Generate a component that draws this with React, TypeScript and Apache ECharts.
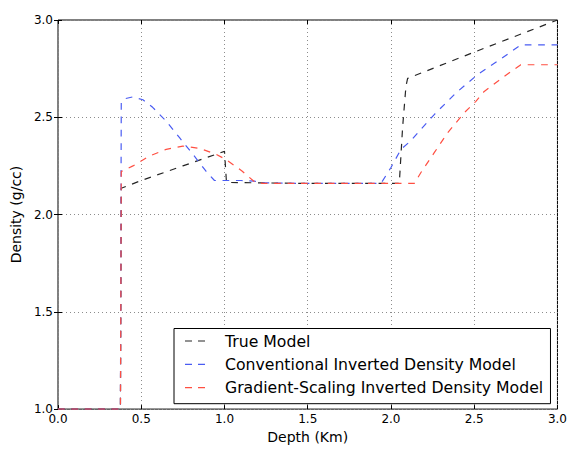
import React, { useEffect, useRef } from "react";
import * as echarts from "echarts";

const trueX = [0, 0.375, 0.38, 0.5, 0.75, 1.0, 1.012, 1.5, 2.05, 2.07, 2.09, 2.1, 2.5, 3.0];
const trueY = [1.0, 1.0, 2.135, 2.175, 2.25, 2.325, 2.165, 2.16, 2.16, 2.45, 2.66, 2.70, 2.835, 3.0];

const convX = [0, 0.375, 0.38, 0.4, 0.45, 0.51, 0.57, 0.65, 0.73, 0.81, 0.89, 0.94, 1.0, 1.1, 1.18, 1.22, 1.5, 1.94, 2.0, 2.06, 2.12, 2.18, 2.26, 2.39, 2.52, 2.66, 2.78, 3.0];
const convY = [1.0, 1.0, 2.575, 2.595, 2.605, 2.59, 2.55, 2.48, 2.395, 2.31, 2.222, 2.175, 2.175, 2.175, 2.172, 2.163, 2.16, 2.16, 2.242, 2.335, 2.38, 2.438, 2.514, 2.625, 2.719, 2.8, 2.872, 2.872];

const gradX = [0, 0.375, 0.38, 0.45, 0.55, 0.65, 0.75, 0.85, 0.95, 1.006, 1.105, 1.185, 1.23, 1.5, 2.12, 2.14, 2.18, 2.26, 2.34, 2.44, 2.51, 2.56, 2.68, 2.78, 3.0];
const gradY = [1.0, 1.0, 2.221, 2.25, 2.301, 2.335, 2.352, 2.34, 2.31, 2.284, 2.224, 2.165, 2.16, 2.16, 2.16, 2.16, 2.216, 2.318, 2.42, 2.523, 2.582, 2.633, 2.71, 2.77, 2.77];

const seriesNames = [
  "True Model",
  "Conventional Inverted Density Model",
  "Gradient-Scaling Inverted Density Model",
];
const seriesColors = ["#262626", "#4a5cf2", "#ff4f42"];

const FONT = "DejaVu Sans";

function zip(xs: number[], ys: number[]) {
  return xs.map((x, i) => [x, ys[i]]);
}

export default function App() {
  const ref = useRef<HTMLDivElement>(null);
  useEffect(() => {
    if (!ref.current) return;
    document.body.style.margin = "0";
    const chart = echarts.init(ref.current, undefined, { renderer: "svg" });
    const gridLine = { show: true, lineStyle: { color: "#8c8c8c", type: [1, 3] as any, width: 1 } };
    const tick = { show: true, inside: true, length: 4, lineStyle: { color: "#000" } };
    const dataSets = [zip(trueX, trueY), zip(convX, convY), zip(gradX, gradY)];
    chart.setOption({
      animation: false,
      backgroundColor: "#fff",
      grid: {
        left: 58,
        right: 8.5,
        top: 20,
        bottom: 37.3,
        show: true,
        borderColor: "#000",
        borderWidth: 1,
        backgroundColor: "transparent",
      },
      xAxis: [
        {
          type: "value",
          min: 0,
          max: 3,
          interval: 0.5,
          name: "Depth (Km)",
          nameLocation: "middle",
          nameGap: 18,
          nameTextStyle: { fontFamily: FONT, fontSize: 14, color: "#000" },
          axisLine: { show: false },
          axisTick: tick,
          splitLine: gridLine,
          axisLabel: {
            fontFamily: FONT,
            fontSize: 12,
            color: "#000",
            margin: 4,
            formatter: (v: number) => v.toFixed(1),
          },
        },
        {
          type: "value",
          position: "top",
          min: 0,
          max: 3,
          interval: 0.5,
          axisLine: { show: false },
          axisTick: tick,
          splitLine: { show: false },
          axisLabel: { show: false },
        },
      ],
      yAxis: [
        {
          type: "value",
          min: 1,
          max: 3,
          interval: 0.5,
          name: "Density (g/cc)",
          nameLocation: "middle",
          nameGap: 31,
          nameTextStyle: { fontFamily: FONT, fontSize: 14, color: "#000" },
          axisLine: { show: false },
          axisTick: tick,
          splitLine: gridLine,
          axisLabel: {
            fontFamily: FONT,
            fontSize: 12,
            color: "#000",
            margin: 5,
            formatter: (v: number) => v.toFixed(1),
          },
        },
        {
          type: "value",
          position: "right",
          min: 1,
          max: 3,
          interval: 0.5,
          axisLine: { show: false },
          axisTick: tick,
          splitLine: { show: false },
          axisLabel: { show: false },
        },
      ],
      legend: {
        data: seriesNames,
        orient: "vertical",
        left: 174,
        top: 328.5,
        backgroundColor: "#fff",
        borderColor: "#000",
        borderWidth: 1,
        borderRadius: 0,
        padding: [3.5, 7.3, 7, 11],
        itemGap: 5.35,
        itemWidth: 20,
        itemHeight: 1.2,
        icon: "path://M0,0h7v1.2h-7zM13,0h7v1.2h-7z",
        textStyle: {
          fontFamily: FONT,
          fontSize: 15.7,
          lineHeight: 18,
          color: "#000",
          padding: [0, 0, 0, 15],
        },
      },
      series: dataSets.map((d, i) => ({
        name: seriesNames[i],
        type: "line",
        data: d,
        symbol: "none",
        showSymbol: false,
        color: seriesColors[i],
        lineStyle: { color: seriesColors[i], width: 1.2, type: [6.7, 6.7] },
        z: 2 + i,
      })),
    });
    return () => chart.dispose();
  }, []);
  return <div ref={ref} style={{ width: 570, height: 449 }} />;
}
